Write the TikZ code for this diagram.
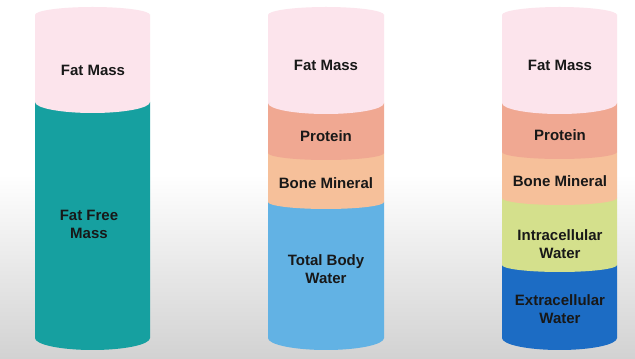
\documentclass[tikz,border=0pt]{standalone}
\usepackage{fontspec}
\setmainfont{Liberation Sans}
\definecolor{fatpink}{RGB}{252,228,236}
\definecolor{ffmteal}{RGB}{22,160,160}
\definecolor{protein}{RGB}{240,168,146}
\definecolor{bone}{RGB}{246,192,154}
\definecolor{tbw}{RGB}{98,178,228}
\definecolor{icw}{RGB}{212,224,140}
\definecolor{ecw}{RGB}{28,108,196}
\definecolor{txt}{RGB}{24,24,24}
\definecolor{bggrey}{RGB}{210,210,210}
\newcommand{\cylband}[6]{% xl, xr, ytop, ybot, ry, colour
  \fill[#6] (#1,#3) -- (#1,#4) arc[start angle=180, end angle=360, x radius={(#2-#1)/2*1pt}, y radius=#5pt] -- (#2,#3) -- cycle;}
\newcommand{\cyltop}[4]{% xl, xr, y, colour
  \fill[#4] (#1,#3) arc[start angle=180, end angle=0, x radius={(#2-#1)/2*1pt}, y radius=8pt] -- cycle;}
\begin{document}
\begin{tikzpicture}[x=1pt,y=1pt,
  lbl/.style={text=txt, font=\fontsize{15}{18}\selectfont\bfseries, align=center, inner sep=0pt}]
\useasboundingbox (0,0) rectangle (635,359);
\fill[white] (0,0) rectangle (635,359);
\shade[top color=white, bottom color=bggrey] (0,0) rectangle (635,185);
% cylinder 1
\cylband{35}{150}{257}{21}{12}{ffmteal}
\cylband{35}{150}{344}{257}{11}{fatpink}
\cyltop{35}{150}{344}{fatpink}
% cylinder 2
\cylband{268}{384}{157}{21}{12}{tbw}
\cylband{268}{384}{206}{157}{7}{bone}
\cylband{268}{384}{256}{206}{7}{protein}
\cylband{268}{384}{344}{256}{11}{fatpink}
\cyltop{268}{384}{344}{fatpink}
% cylinder 3
\cylband{502}{617}{94}{21}{12}{ecw}
\cylband{502}{617}{161}{94}{7}{icw}
\cylband{502}{617}{207}{161}{7}{bone}
\cylband{502}{617}{256}{207}{7}{protein}
\cylband{502}{617}{344}{256}{11}{fatpink}
\cyltop{502}{617}{344}{fatpink}
% labels
\node[lbl] (a1) at (93,289) {Fat Mass};
\node[lbl] (a2) at (89,135) {Fat Free\\Mass};
\node[lbl] (b1) at (326,294) {Fat Mass};
\node[lbl] (b2) at (326,223) {Protein};
\node[lbl] (b3) at (326,176) {Bone Mineral};
\node[lbl] (b4) at (326,90) {Total Body\\Water};
\node[lbl] (c1) at (560,294) {Fat Mass};
\node[lbl] (c2) at (560,224) {Protein};
\node[lbl] (c3) at (560,178) {Bone Mineral};
\node[lbl] (c4) at (560,115) {Intracellular\\Water};
\node[lbl] (c5) at (560,50) {Extracellular\\Water};
\end{tikzpicture}
\end{document}
